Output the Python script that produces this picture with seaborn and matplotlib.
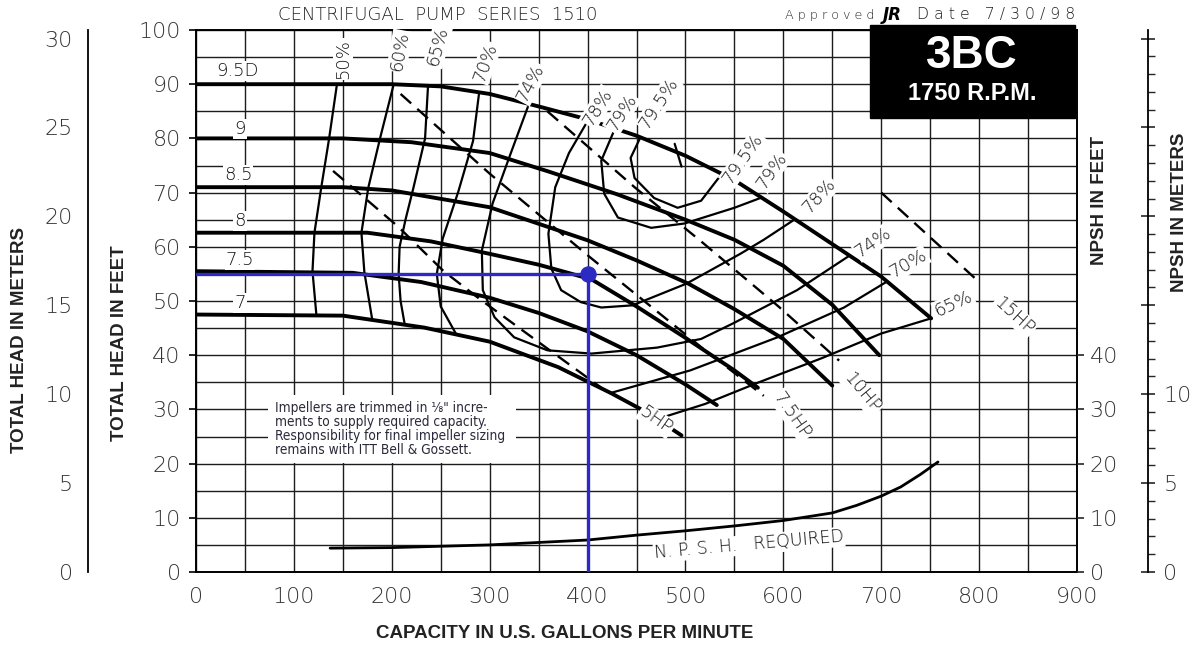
import numpy as np
import pandas as pd
import matplotlib
matplotlib.use("Agg")
import matplotlib.pyplot as plt
import seaborn as sns
from matplotlib.ticker import MultipleLocator, FixedLocator, FixedFormatter
from matplotlib.patches import Rectangle

sns.set_theme(style="white")
plt.rcParams['font.family'] = ['DejaVu Sans']

# ---------------- data (gpm, feet) ----------------
x_tick_values = [0, 100, 200, 300, 400, 500, 600, 700, 800, 900]
y_tick_values = [0, 10, 20, 30, 40, 50, 60, 70, 80, 90, 100]
npsh_ft_ticks = [0, 10, 20, 30, 40]

imp_names = ["9.5D", "9", "8.5", "8", "7.5", "7"]
q_95 = [0, 100, 200, 250, 300, 350, 400, 450, 500, 550, 600, 650, 700, 751]
h_95 = [90, 90, 90, 89.6, 88.2, 85.9, 83.5, 80.5, 76.8, 72.3, 66.5, 60.5, 54.5, 46.8]
q_90 = [0, 150, 220, 300, 360, 430, 500, 550, 600, 650, 698]
h_90 = [80, 80, 79.3, 77.3, 73.9, 69.7, 65.0, 61.3, 56.5, 49.3, 40.0]
q_85 = [0, 150, 200, 300, 400, 450, 503, 550, 600, 650]
h_85 = [71, 71, 70.4, 67.3, 61.2, 57.5, 53.2, 48.5, 43.0, 34.4]
q_80 = [0, 175, 240, 300, 350, 404, 450, 500, 550, 574]
h_80 = [62.6, 62.6, 61.0, 58.7, 56.7, 54.0, 49.0, 43.2, 37.2, 34.0]
q_75 = [0, 160, 230, 300, 350, 400, 450, 500, 532]
h_75 = [55.5, 55.2, 53.5, 50.6, 47.8, 44.4, 40.0, 34.6, 30.8]
q_70 = [0, 150, 233, 300, 370, 424, 460, 496]
h_70 = [47.5, 47.3, 45.1, 42.5, 37.8, 33.0, 29.5, 25.2]
imp_label_q = [42, 45, 43, 45, 45, 45]
imp_label_h = [92.5, 81.8, 73.2, 64.8, 57.6, 49.6]

# efficiency contours
e50_q = [144, 136, 128, 121, 119, 123]
e50_h = [90, 80, 71, 62.6, 55.5, 47.4]
e60_q = [202, 188, 176, 169, 172, 180]
e60_h = [90, 80, 70.9, 62.6, 55.3, 46.6]
e65_q = [237, 234, 222, 214, 208, 207, 209, 213]
e65_h = [89.6, 80, 70.8, 65, 60, 55, 50, 45.9]
e70_q = [289, 283, 268, 252, 246, 250, 266]
e70_h = [88.1, 79.5, 70.2, 61.5, 55, 49, 43.8]
e74_q = [339, 320, 303, 292, 293, 305, 325, 359, 404, 471, 516, 549, 614, 667]
e74_h = [85.8, 76.5, 68, 59.3, 52, 47, 43.3, 40.9, 40.3, 41.4, 43.0, 45.9, 52.0, 58.3]
e78_q = [401, 381, 367, 360, 363, 373, 393, 414, 446, 501, 556, 580, 612]
e78_h = [83.5, 77.3, 71, 62.4, 56, 52, 49.8, 48.8, 49.2, 53.2, 58.7, 61.3, 65.1]
e79_q = [428, 414, 417, 431, 465, 499, 550, 578]
e79_h = [81.8, 75.9, 69.8, 65.4, 63.5, 64.3, 67.2, 69.1]
e795_q = [454, 444, 448, 468, 492, 516, 533, 538]
e795_h = [80.2, 76.4, 72.7, 69.0, 67.2, 68.5, 72.5, 73.4]
e70r_q = [423, 505, 594, 662, 706]
e70r_h = [33.0, 37.2, 43.3, 48.8, 53.6]
e65r_q = [471, 520, 575, 640, 700, 751]
e65r_h = [28.2, 31.0, 35.0, 39.5, 44.0, 46.8]
bep_q = [489, 496]
bep_h = [79.0, 74.8]

eff_labels = ["50%", "60%", "65%", "70%", "74%", "78%", "79%", "79.5%",
              "79.5%", "79%", "78%", "74%", "70%", "65%"]
eff_label_q = [150, 208, 247, 296, 342, 411, 435, 473, 559, 588, 637, 692, 728, 774]
eff_label_h = [94.7, 96.1, 97.0, 94.0, 90.2, 85.8, 84.7, 86.4, 76.2, 74.0, 69.4, 60.8, 56.9, 49.5]
eff_label_rot = [90, 80, 75, 70, 62, 58, 57, 57, 55, 55, 48, 35, 30, 25]

# horsepower lines
hp5_q = [140, 206, 253, 291, 366, 414]
hp5_h = [74, 63.8, 55.5, 50.2, 40.3, 34.0]
hp75_q = [209, 300, 403, 516, 580]
hp75_h = [88.2, 73.5, 58.0, 41.5, 32.5]
hp10_q = [359, 448, 516, 595, 657]
hp10_h = [85.0, 71.0, 61.0, 49.0, 39.0]
hp15_q = [700, 800]
hp15_h = [70.0, 53.5]
hp_labels = ["5HP", "7.5HP", "10HP", "15HP"]
hp_label_q = [470, 609, 680, 836]
hp_label_h = [28.0, 28.9, 33.0, 47.3]
hp_label_rot = [-35, -55, -50, -42]

# NPSH required
npsh_q = [137, 200, 300, 400, 450, 500, 550, 600, 650, 675, 700, 720, 740, 758]
npsh_h = [4.4, 4.5, 5.0, 5.9, 6.8, 7.6, 8.5, 9.5, 10.9, 12.3, 14.0, 15.7, 18.0, 20.3]

# duty point
duty_q = [400]
duty_h = [55]

# ---------------- figure ----------------
W, H = 1190, 646
fig = plt.figure(figsize=(W / 100, H / 100), dpi=100)
fig.patch.set_facecolor("white")
L, R, T, B = 196, 1077, 30, 572
ax = fig.add_axes([L / W, 1 - B / H, (R - L) / W, (B - T) / H])
ax.set_facecolor("white")
ax.set_axisbelow(True)

thin_font = dict(family=["DejaVu Sans"], fontweight="light")
tick_col = "#333333"


def draw(qs, hs, lw, ls="-", color="black", z=3):
    df = pd.DataFrame({"q": qs, "h": hs})
    sns.lineplot(data=df, x="q", y="h", ax=ax, sort=False, estimator=None,
                 color=color, lw=lw, linestyle=ls, zorder=z, legend=False)


for qs, hs in [(q_95, h_95), (q_90, h_90), (q_85, h_85), (q_80, h_80), (q_75, h_75), (q_70, h_70)]:
    draw(qs, hs, 2.8)

for qs, hs in [(e50_q, e50_h), (e60_q, e60_h), (e65_q, e65_h), (e70_q, e70_h), (e74_q, e74_h),
               (e78_q, e78_h), (e79_q, e79_h), (e795_q, e795_h), (e70r_q, e70r_h),
               (e65r_q, e65r_h), (bep_q, bep_h)]:
    draw(qs, hs, 1.6)

for qs, hs in [(hp5_q, hp5_h), (hp75_q, hp75_h), (hp10_q, hp10_h), (hp15_q, hp15_h)]:
    draw(qs, hs, 1.7, ls=(0, (6, 3.5)))

draw(npsh_q, npsh_h, 2.0)

# duty point (blue)
blue = "#2b2bc4"
ax.plot([0, duty_q[0]], [duty_h[0], duty_h[0]], color=blue, lw=2.4, zorder=4)
ax.plot([duty_q[0], duty_q[0]], [duty_h[0], 0], color=blue, lw=2.4, zorder=4)
sns.scatterplot(x=duty_q, y=duty_h, ax=ax, color=blue, s=120, edgecolor=blue, zorder=5, legend=False)

ax.set_xlim(0, 900)
ax.set_ylim(0, 100)
ax.set_xlabel("")
ax.set_ylabel("")
ax.xaxis.set_major_locator(FixedLocator(x_tick_values))
ax.xaxis.set_minor_locator(MultipleLocator(50))
ax.yaxis.set_major_locator(FixedLocator(y_tick_values))
ax.yaxis.set_minor_locator(MultipleLocator(5))
ax.grid(which="both", color="#1c1c1c", lw=1.0)
ax.tick_params(axis="both", which="major", length=5, width=1.2, color="black",
               labelsize=16, pad=6, direction="out", labelcolor=tick_col)
ax.tick_params(axis="both", which="minor", length=0)
for lab in ax.get_xticklabels() + ax.get_yticklabels():
    lab.set_fontweight("light")
for s in ax.spines.values():
    s.set_color("black")
    s.set_linewidth(1.4)

# white note box (breaks the grid)
ax.add_patch(Rectangle((74, 20.1), 253, 12.5, facecolor="white", edgecolor="none", zorder=1))

bb = dict(facecolor="white", edgecolor="none", pad=0.8)
for name, q, h in zip(imp_names, imp_label_q, imp_label_h):
    ax.text(q, h, name, fontsize=13, ha="center", va="center", zorder=6, bbox=bb,
            color="#111", **thin_font)
for name, q, h, r in zip(eff_labels, eff_label_q, eff_label_h, eff_label_rot):
    ax.text(q, h, name, fontsize=13, ha="center", va="center", rotation=r, zorder=6,
            bbox=bb, color="#111", rotation_mode="anchor", **thin_font)
for name, q, h, r in zip(hp_labels, hp_label_q, hp_label_h, hp_label_rot):
    ax.text(q, h, name, fontsize=13, ha="center", va="center", rotation=r, zorder=6,
            bbox=bb, color="#111", rotation_mode="anchor", **thin_font)
ax.text(565, 5.0, "N. P. S. H.   REQUIRED", fontsize=12.5, ha="center", va="center", rotation=5,
        zorder=6, bbox=bb, color="#111", rotation_mode="anchor", **thin_font)

ax.text(81, 26.4,
        "Impellers are trimmed in \u215b\" incre-\nments to supply required capacity.\n"
        "Responsibility for final impeller sizing\nremains with ITT Bell & Gossett.",
        family=["DejaVu Sans"], fontstretch="condensed", fontsize=9.8, ha="left", va="center",
        linespacing=1.0, color="#2a2a3a", zorder=6)

# right NPSH feet labels
axr = ax.twinx()
axr.set_ylim(0, 100)
axr.yaxis.set_major_locator(FixedLocator(npsh_ft_ticks))
axr.tick_params(axis="y", length=5, width=1.2, labelsize=16, pad=4, labelcolor=tick_col)
for lab in axr.get_yticklabels():
    lab.set_fontweight("light")
for s in axr.spines.values():
    s.set_visible(False)
axr.grid(False)

FT2M = 0.3048

# left meters axis
axm = fig.add_axes([88 / W, 1 - B / H, 0.0001, (B - T) / H])
axm.set_ylim(0, 100 * FT2M)
axm.set_facecolor("none")
for k in ["right", "top", "bottom"]:
    axm.spines[k].set_visible(False)
axm.spines["left"].set_color("black")
axm.spines["left"].set_linewidth(1.3)
axm.set_xticks([])
axm.yaxis.set_major_locator(MultipleLocator(5))
axm.yaxis.set_minor_locator(MultipleLocator(1))
axm.tick_params(axis="y", which="major", direction="inout", length=10, width=1.2,
                labelsize=16, pad=6, labelcolor=tick_col)
axm.tick_params(axis="y", which="minor", direction="in", length=5, width=1.0)
for lab in axm.get_yticklabels():
    lab.set_fontweight("light")
axm.grid(False)

# right NPSH meters axis
axn = fig.add_axes([1148 / W, 1 - B / H, 0.0001, (B - T) / H])
axn.set_ylim(0, 100 * FT2M)
axn.set_facecolor("none")
for k in ["left", "top", "bottom"]:
    axn.spines[k].set_visible(False)
axn.spines["right"].set_color("black")
axn.spines["right"].set_linewidth(1.3)
axn.set_xticks([])
axn.yaxis.tick_right()
axn.yaxis.set_major_locator(FixedLocator([0, 5, 10, 15, 20, 25, 30]))
axn.yaxis.set_major_formatter(FixedFormatter(["0", "5", "10", "", "", "", ""]))
axn.yaxis.set_minor_locator(MultipleLocator(1))
axn.tick_params(axis="y", which="major", direction="inout", length=10, width=1.2,
                labelsize=16, pad=6, labelcolor=tick_col)
axn.tick_params(axis="y", which="minor", direction="out", length=5, width=1.0)
for lab in axn.get_yticklabels():
    lab.set_fontweight("light")
axn.grid(False)

# axis titles
bold = dict(family=["Liberation Sans", "DejaVu Sans"], fontweight="bold", color="#222")
fig.text(565 / W, 1 - 633 / H, "CAPACITY IN U.S. GALLONS PER MINUTE", fontsize=13.5,
         ha="center", va="center", **bold)
fig.text(120 / W, 1 - 343 / H, "TOTAL HEAD IN FEET", fontsize=13.5, rotation=90,
         ha="center", va="center", **bold)
fig.text(20 / W, 1 - 340 / H, "TOTAL HEAD IN METERS", fontsize=13.5, rotation=90,
         ha="center", va="center", **bold)
fig.text(1099 / W, 1 - 200 / H, "NPSH IN FEET", fontsize=13.5, rotation=90,
         ha="center", va="center", **bold)
fig.text(1179 / W, 1 - 212 / H, "NPSH IN METERS", fontsize=13.5, rotation=90,
         ha="center", va="center", **bold)

# header texts
fig.text(438 / W, 1 - 15 / H, "CENTRIFUGAL  PUMP  SERIES  1510",
         fontsize=13, ha="center", va="center", color="#222", **thin_font)
fig.text(785 / W, 1 - 15 / H, "A p p r o v e d", fontsize=9.2, ha="left", va="center",
         color="#222", **thin_font)
fig.text(892 / W, 1 - 15 / H, "JR", fontsize=12, ha="center", va="center", color="black",
         family=["DejaVu Sans"], fontweight="bold", fontstyle="italic")
fig.text(1075 / W, 1 - 15 / H, "D a t e   7 / 3 0 / 9 8", fontsize=11.3, ha="right", va="center",
         color="#222", **thin_font)

# model box
fig.patches.append(Rectangle((870 / W, 1 - 118 / H), 205 / W, 93 / H, transform=fig.transFigure,
                             facecolor="black", edgecolor="black", zorder=10))
fig.text(972 / W, 1 - 56 / H, "3BC", fontsize=33, ha="center", va="center", color="white",
         family=["Liberation Sans", "DejaVu Sans"], fontweight="bold", zorder=11)
fig.text(972 / W, 1 - 94 / H, "1750 R.P.M.", fontsize=17, ha="center", va="center", color="white",
         family=["Liberation Sans", "DejaVu Sans"], fontweight="bold", zorder=11)

fig.savefig("out.png", dpi=100, facecolor="white")
